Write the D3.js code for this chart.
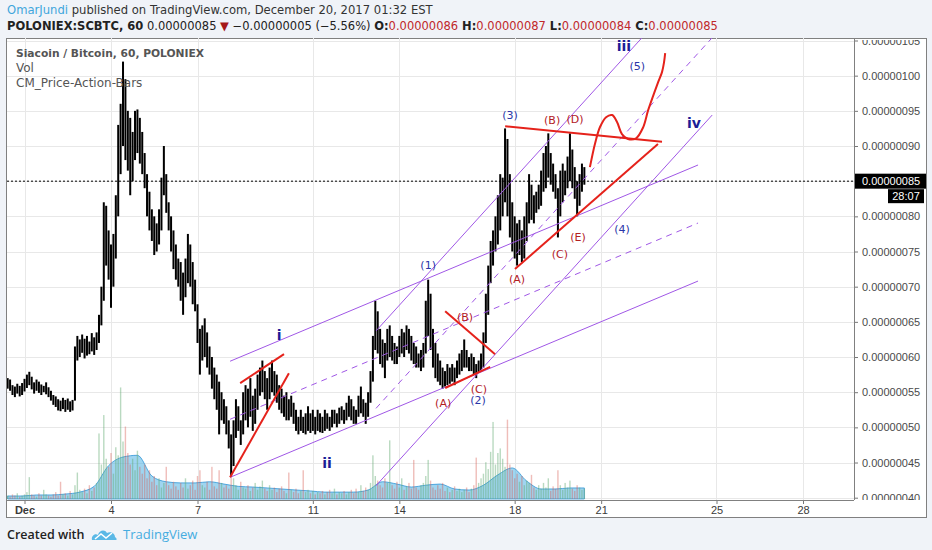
<!DOCTYPE html>
<html>
<head>
<meta charset="utf-8">
<script src="https://cdn.jsdelivr.net/npm/d3@7"></script>
<style>
  body { margin: 0; background: #f0f3f8; }
  svg { display: block; font-family: "DejaVu Sans", sans-serif; }
</style>
</head>
<body>
<svg id="chart" width="932" height="550"></svg>
<script>
// Price in satoshi (1e-8 BTC), time in day-of-December (Dec 1 00:00 = 1)
// 2-hour bars starting Nov 30 10:00
const barStart = 0.4167, barStep = 1 / 12;

const hi = [
  57.0,56.8,56.0,55.8,56.2,55.9,56.3,56.9,57.5,57.9,
  57.2,56.4,56.8,56.5,56.1,55.9,56.4,55.7,55.2,54.6,
  54.4,54.0,53.8,54.2,53.9,54.1,53.7,53.9,61.5,63.0,
  62.5,63.2,62.6,63.0,62.2,63.4,62.8,63.5,66.0,70.0,
  82.0,81.5,78.0,76.0,77.5,83.0,93.0,96.0,102.0,99.5,
  95.0,94.0,92.0,95.0,95.2,94.0,92.0,89.0,86.0,83.5,
  81.0,80.0,79.0,81.0,85.5,90.0,86.0,82.0,80.0,78.0,
  76.0,74.0,73.5,72.0,74.0,77.5,76.0,73.5,71.0,67.5,
  64.0,64.5,65.5,63.5,61.5,60.0,58.5,57.5,56.5,55.0,
  54.0,53.0,51.0,49.0,51.0,54.0,53.0,51.0,55.0,56.0,
  55.5,57.0,54.5,55.5,57.5,58.5,59.5,58.0,57.0,58.5,
  59.5,58.0,57.5,56.0,55.5,54.5,55.0,54.0,54.5,53.5,
  52.5,51.5,52.5,51.5,52.0,53.0,52.0,52.5,51.5,52.5,
  52.0,51.5,52.5,52.0,51.5,52.5,52.5,52.0,52.8,53.0,
  52.5,53.5,54.5,54.0,53.0,52.5,54.5,55.8,54.0,53.5,
  55.0,58.0,63.0,68.0,66.5,64.0,62.5,62.0,64.0,64.5,
  63.0,62.0,61.5,63.0,64.0,63.5,64.5,64.0,63.0,62.0,
  61.5,60.5,61.0,62.0,68.0,71.0,69.0,64.0,62.0,60.5,
  59.5,58.5,58.0,59.0,58.5,59.0,58.5,59.5,60.5,61.0,
  62.5,61.0,60.0,60.5,60.0,59.0,59.5,60.5,63.5,69.0,
  73.0,76.5,78.0,80.0,83.0,86.0,85.5,92.5,91.0,86.0,
  82.0,80.0,79.0,79.5,78.0,80.0,82.0,86.0,84.5,83.0,
  83.5,84.5,86.5,89.0,90.0,91.8,89.0,87.5,86.0,84.0,
  86.5,87.5,86.5,88.5,91.8,89.5,87.0,85.0,86.0,87.5,
  87.0
];
const lo = [
  55.5,55.2,54.6,54.3,54.8,54.4,54.6,55.1,55.6,56.0,
  55.4,54.8,55.2,54.9,54.6,55.0,54.7,54.3,53.8,53.2,
  52.9,52.4,52.3,52.6,52.2,52.5,52.2,52.4,53.8,59.5,
  60.0,60.6,59.8,60.2,60.4,60.8,60.3,61.0,62.0,64.5,
  68.0,73.0,71.0,67.0,70.0,74.0,80.0,86.0,90.0,88.0,
  86.5,83.0,85.0,88.0,89.0,87.5,86.0,84.0,80.0,78.0,
  76.5,74.5,75.0,76.0,78.0,83.0,80.5,78.0,75.0,72.5,
  71.0,70.0,68.0,66.0,68.5,70.5,70.0,67.5,66.5,62.0,
  57.5,59.5,60.0,58.5,57.5,55.5,54.0,52.5,49.0,51.0,
  50.5,49.0,47.0,43.0,44.5,48.5,49.5,47.5,49.0,51.0,
  50.0,51.5,49.5,50.5,52.5,54.5,55.0,54.0,52.5,54.0,
  55.0,54.5,53.5,52.5,52.0,51.5,51.0,51.0,51.5,50.5,
  49.5,49.0,49.5,49.2,49.0,49.5,49.2,49.5,49.0,49.5,
  49.3,49.2,49.5,49.8,49.5,50.0,50.5,50.0,50.5,51.0,
  50.5,51.0,51.5,51.0,50.5,50.5,51.5,52.0,51.5,50.5,
  51.5,53.5,56.5,61.0,60.5,59.0,58.5,57.0,59.5,60.0,
  59.5,59.0,59.0,60.0,60.5,60.0,61.0,60.5,59.5,59.0,
  58.5,58.5,58.0,58.5,60.5,63.0,61.0,58.5,57.0,56.5,
  56.0,55.5,55.8,56.0,56.2,56.5,56.0,57.0,57.5,58.0,
  58.5,58.5,58.0,58.0,57.5,57.0,57.8,58.0,58.5,62.0,
  66.0,70.5,73.0,75.0,76.0,78.0,80.0,82.0,80.0,77.0,
  75.0,74.0,73.0,74.5,73.5,74.0,76.5,79.0,79.5,79.0,
  80.5,81.0,81.5,83.5,84.0,85.5,84.5,83.5,82.5,77.0,
  80.0,82.0,83.0,84.0,85.0,84.0,82.5,80.0,81.5,83.5,
  84.5
];
// volume, relative units
const vol = [
  3,2,4,3,5,2,3,4,6,19,  4,3,2,5,3,8,4,3,2,4,
  6,3,15,4,5,3,7,4,12,23,  8,6,9,5,12,7,10,14,57,30,
  73,35,28,40,22,45,38,97,50,63,  40,30,35,25,42,28,22,30,18,25,
  15,20,12,18,10,14,28,12,9,15,  11,8,14,10,18,9,12,16,8,20,
  25,12,10,15,8,28,11,9,25,14,  10,12,9,23,18,12,8,15,10,9,
  12,7,10,14,8,11,16,9,7,12,  8,10,6,9,11,7,5,23,8,6,
  9,5,7,25,6,8,5,7,4,6,  5,7,4,6,8,5,9,4,6,5,
  7,4,6,8,5,9,6,12,7,10,  8,14,38,20,16,12,10,18,14,51,
  12,9,15,10,18,8,11,14,9,34,  10,8,12,14,20,34,16,10,8,12,
  9,14,7,10,6,8,11,7,9,6,  8,10,6,9,12,36,14,18,22,32,
  26,41,67,30,40,44,35,28,69,30,  25,18,22,15,20,12,16,14,21,10,
  8,12,9,14,10,18,7,11,9,25,  12,8,14,10,16,9,7,12,10,8,
  9
];
// volume moving average, every 12 hours
const volMA = [2.6,2.6,3.5,3.5,4.3,6,11,29,36.5,38,20,15,14,14,15,13,11,10.4,9.6,8.7,
  7.8,7,6,6,6,7.8,15,13,10.4,12,13,8.7,7.8,12,21,27,15.6,8.7,8.7,9.6,9.6];
const lastClose = 85;

const xTicks = [1, 4, 7, 11, 14, 18, 21, 25, 28];
const xTickLabels = ["Dec", "4", "7", "11", "14", "18", "21", "25", "28"];
const yTicks = [40, 45, 50, 55, 60, 65, 70, 75, 80, 85, 90, 95, 100, 105];

// drawings: [day, price]
const chanA = [[8.13, 42.9], [24.36, 70.8]], chanAWidth = 16.5;
const chanB = [[13.19, 41.7], [24.85, 94.4]], chanBWidth = 22.0;
const redLines = [
  [[8.48, 56.3], [10.0, 60.4]],
  [[8.13, 42.9], [10.17, 57.7]],
  [[15.59, 66.5], [17.32, 60.4]],
  [[15.59, 55.6], [17.15, 58.6]],
  [[17.67, 92.8], [23.11, 90.6]],
  [[18.01, 72.5], [22.97, 90.3]]
];
const projection = [[20.61, 87.0], [20.79, 90.4], [20.96, 92.7], [21.17, 94.1], [21.38, 94.4],
  [21.55, 93.4], [21.72, 91.7], [21.93, 91.0], [22.21, 91.1], [22.45, 92.6], [22.63, 95.1],
  [22.80, 97.1], [22.97, 99.0], [23.11, 100.5], [23.18, 101.9], [23.22, 103.2]];
const waveLabels = [["i", 9.83, 63.1], ["ii", 11.49, 44.9], ["iii", 21.79, 104.2], ["iv", 24.22, 93.3]];
const impulseLabels = [["(1)", 15.0, 73.1], ["(2)", 16.73, 53.9], ["(3)", 17.84, 94.4], ["(4)", 21.72, 78.2], ["(5)", 22.25, 101.4]];
const abcLabels = [["(A)", 15.52, 53.5], ["(B)", 16.28, 65.7], ["(C)", 16.76, 55.5], ["(A)", 18.08, 71.1],
  ["(B)", 19.30, 93.7], ["(C)", 19.57, 74.7], ["(D)", 20.09, 93.8], ["(E)", 20.20, 77.1]];

const svg = d3.select("#chart");
const pL = 7, pR = 854, pT = 38, pB = 500;

const x = d3.scaleLinear().domain([1, 28]).range([24.5, 803]);
const y = d3.scaleLinear().domain([40, 105]).range([497.7, 40.5]);
const yVol = d3.scaleLinear().domain([0, 100]).range([499, 384]);
const barDay = i => barStart + i * barStep;

// header
const h1 = svg.append("text").attr("x", 7).attr("y", 14).attr("font-size", 11.6).attr("fill", "#333");
h1.append("tspan").attr("fill", "#3fa6dc").text("OmarJundi");
h1.append("tspan").text(" published on TradingView.com, December 20, 2017 01:32 EST");

const h2 = svg.append("text").attr("x", 7).attr("y", 30).attr("font-size", 11.5).attr("fill", "#222");
const red = "#c0282a";
[["POLONIEX:SCBTC, 60", "bold", null], [" 0.00000085 ", null, null], ["\u25BC", null, "#a51818"],
 [" \u22120.00000005 (\u22125.56%) ", null, null], ["O:", "bold", null], ["0.00000086", null, red],
 [" H:", "bold", null], ["0.00000087", null, red], [" L:", "bold", null], ["0.00000084", null, red],
 [" C:", "bold", null], ["0.00000085", null, red]].forEach(([t, w, c]) => {
  const s = h2.append("tspan").text(t);
  if (w) s.attr("font-weight", w);
  if (c) s.attr("fill", c);
});

// chart box
svg.append("rect").attr("x", 6.5).attr("y", 38.5).attr("width", 920).attr("height", 479)
  .attr("fill", "#fff").attr("stroke", "#808080");

// grid
const grid = svg.append("g").attr("stroke", "#e8e8e8");
grid.selectAll(".gh").data(yTicks).join("line")
  .attr("x1", pL).attr("x2", pR)
  .attr("y1", d => Math.round(y(d)) + 0.5).attr("y2", d => Math.round(y(d)) + 0.5);
grid.selectAll(".gv").data(xTicks).join("line")
  .attr("y1", pT).attr("y2", pB)
  .attr("x1", d => Math.round(x(d)) + 0.5).attr("x2", d => Math.round(x(d)) + 0.5);

const defs = svg.append("defs");
defs.append("clipPath").attr("id", "plot").append("rect")
  .attr("x", pL).attr("y", pT).attr("width", pR - pL).attr("height", pB - pT);
defs.append("clipPath").attr("id", "yclip").append("rect")
  .attr("x", pR).attr("y", pT + 2).attr("width", 72).attr("height", pB - pT - 2);

const plot = svg.append("g").attr("clip-path", "url(#plot)");

// volume
plot.append("path").datum(volMA)
  .attr("d", d3.area().x((d, k) => x(barStart + k * 0.5)).y0(yVol(0)).y1(d => yVol(d)).curve(d3.curveMonotoneX))
  .attr("fill", "rgba(80,178,228,0.55)").attr("stroke", "rgba(50,150,215,0.8)");
const mid = hi.map((h, i) => (h + lo[i]) / 2);
plot.append("g").selectAll("rect").data(vol).join("rect")
  .attr("x", (d, i) => x(barDay(i)) - 0.7).attr("width", 1.4)
  .attr("y", d => yVol(d)).attr("height", d => yVol(0) - yVol(d))
  .attr("fill", (d, i) => i > 0 && mid[i] < mid[i - 1] ? "rgba(215,90,80,0.4)" : "rgba(100,170,115,0.45)");

// price bars
plot.append("g").selectAll("rect").data(hi).join("rect")
  .attr("x", (d, i) => x(barDay(i)) - 1).attr("width", 2)
  .attr("y", d => y(d)).attr("height", (d, i) => y(lo[i]) - y(d))
  .attr("fill", "#000");

// last price line
plot.append("line").attr("x1", pL).attr("x2", pR)
  .attr("y1", y(lastClose)).attr("y2", y(lastClose))
  .attr("stroke", "#000").attr("stroke-dasharray", "2,2");

// channels
const purple = "#a057e6";
function channel(pts, w) {
  const g = plot.append("g").attr("stroke", purple).attr("fill", "none");
  [0, w, w / 2].forEach(off => {
    g.append("line")
      .attr("x1", x(pts[0][0])).attr("y1", y(pts[0][1] + off))
      .attr("x2", x(pts[1][0])).attr("y2", y(pts[1][1] + off))
      .attr("stroke-dasharray", off === w / 2 ? "6,5" : null);
  });
}
channel(chanA, chanAWidth);
channel(chanB, chanBWidth);

const redG = plot.append("g").attr("stroke", "#e5221b").attr("stroke-width", 2).attr("fill", "none");
redG.selectAll("line").data(redLines).join("line")
  .attr("x1", d => x(d[0][0])).attr("y1", d => y(d[0][1]))
  .attr("x2", d => x(d[1][0])).attr("y2", d => y(d[1][1]));
redG.append("path").datum(projection)
  .attr("d", d3.line().x(d => x(d[0])).y(d => y(d[1])).curve(d3.curveCatmullRom));

// wave labels
plot.append("g").selectAll("text").data(waveLabels).join("text")
  .attr("x", d => x(d[1])).attr("y", d => y(d[2]) + 5)
  .attr("text-anchor", "middle").attr("font-size", 14).attr("font-weight", "bold")
  .attr("fill", "#1c1c96").text(d => d[0]);
plot.append("g").selectAll("text").data(impulseLabels).join("text")
  .attr("x", d => x(d[1])).attr("y", d => y(d[2]) + 4)
  .attr("text-anchor", "middle").attr("font-size", 11)
  .attr("fill", "#2a36a8").text(d => d[0]);
plot.append("g").selectAll("text").data(abcLabels).join("text")
  .attr("x", d => x(d[1])).attr("y", d => y(d[2]) + 4)
  .attr("text-anchor", "middle").attr("font-size", 11)
  .attr("fill", "#b3201f").text(d => d[0]);

// legend
const legend = svg.append("g").attr("fill", "#555");
legend.append("text").attr("x", 16).attr("y", 57).attr("font-size", 10.7).attr("font-weight", "bold")
  .text("Siacoin / Bitcoin, 60, POLONIEX");
legend.append("text").attr("x", 16).attr("y", 72).attr("font-size", 12).text("Vol");
legend.append("text").attr("x", 16).attr("y", 87).attr("font-size", 12).text("CM_Price-Action-Bars");

// y axis
const yAxis = svg.append("g").attr("clip-path", "url(#yclip)")
  .append("g").attr("transform", `translate(${pR},0)`)
  .call(d3.axisRight(y).tickValues(yTicks).tickSize(4).tickPadding(4).tickFormat(d => (d / 1e8).toFixed(8)));
yAxis.select(".domain").remove();
yAxis.selectAll("line").attr("stroke", "#777");
yAxis.selectAll("text").attr("fill", "#4a4a4a").attr("font-size", 11).attr("font-family", "Liberation Sans, Arial, sans-serif");
svg.append("line").attr("x1", pR + 0.5).attr("x2", pR + 0.5).attr("y1", pT).attr("y2", pB)
  .attr("stroke", "#808080");

// x axis
const xAxis = svg.append("g").attr("transform", `translate(0,${pB})`)
  .call(d3.axisBottom(x).tickValues(xTicks).tickSize(4).tickPadding(2).tickFormat((d, i) => xTickLabels[i]));
xAxis.select(".domain").remove();
xAxis.selectAll("line").attr("stroke", "#777");
xAxis.selectAll("text").attr("fill", "#3a3a3a").attr("font-size", 11).attr("font-family", "Liberation Sans, Arial, sans-serif")
  .attr("font-weight", (d, i) => i === 0 ? "bold" : null);
svg.append("line").attr("x1", pL).attr("x2", pR).attr("y1", pB + 0.5).attr("y2", pB + 0.5)
  .attr("stroke", "#808080");

// current price + countdown
const py = y(lastClose);
svg.append("rect").attr("x", pR + 1).attr("y", py - 7.5).attr("width", 71).attr("height", 15).attr("fill", "#000");
svg.append("text").attr("x", pR + 8).attr("y", py + 4).attr("fill", "#fff").attr("font-size", 11)
  .attr("font-family", "Liberation Sans, Arial, sans-serif").text((lastClose / 1e8).toFixed(8));
svg.append("rect").attr("x", 888).attr("y", py + 8).attr("width", 36).attr("height", 14).attr("fill", "#000");
svg.append("text").attr("x", 906).attr("y", py + 19).attr("text-anchor", "middle").attr("fill", "#fff")
  .attr("font-size", 11).attr("font-family", "Liberation Sans, Arial, sans-serif").text("28:07");

// footer
svg.append("text").attr("x", 7).attr("y", 539).attr("font-size", 12.5).attr("fill", "#222")
  .attr("font-family", "Open Sans, sans-serif").attr("font-weight", 600).text("Created with");
const logo = svg.append("g").attr("transform", "translate(92,527)");
logo.append("path").attr("fill", "#5ab8e6")
  .attr("d", "M0,13 C-1,9 3,6 6,8 C7,3 13,2 15,6 C18,4 23,6 23,10 C25,11 25,13 24,13 Z");
logo.append("path").attr("fill", "none").attr("stroke", "#fff").attr("stroke-width", 1.5)
  .attr("d", "M3,12 L9,7 L14,11 L20,6");
svg.append("text").attr("x", 123).attr("y", 539).attr("font-size", 13).attr("fill", "#45ace0")
  .attr("font-family", "Open Sans, sans-serif").text("TradingView");
</script>
</body>
</html>
